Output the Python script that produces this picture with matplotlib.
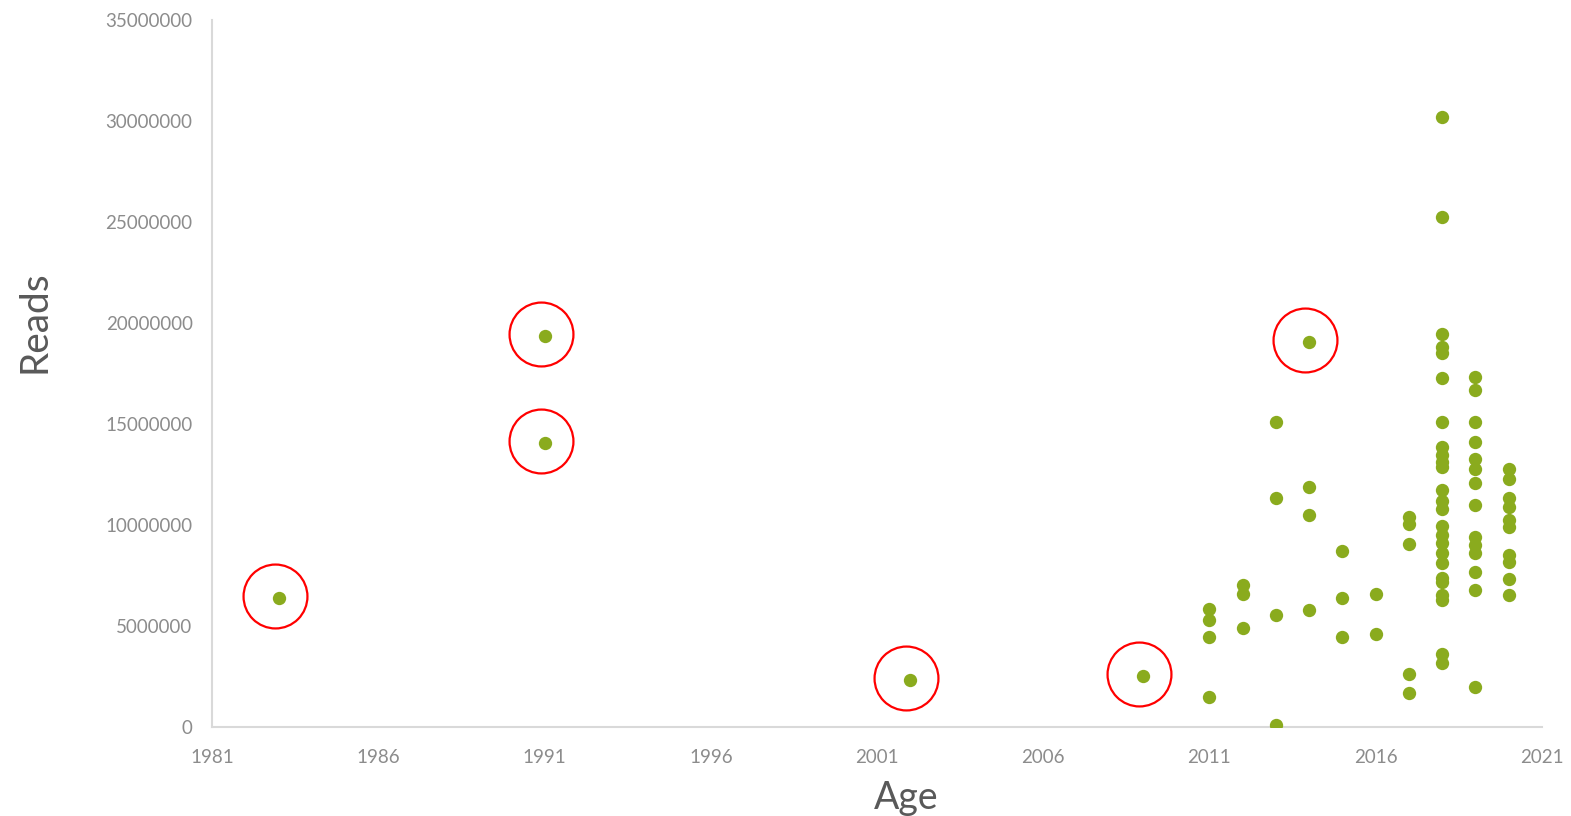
import matplotlib.pyplot as plt
from matplotlib.transforms import ScaledTranslation

plt.rcParams['font.family'] = ['Lato', 'DejaVu Sans']

# 数据：年份 与 reads 数
years = [1983, 1991, 1991, 2002, 2009,
         2011, 2011, 2011, 2011,
         2012, 2012, 2012,
         2013, 2013, 2013, 2013,
         2014, 2014, 2014, 2014,
         2015, 2015, 2015,
         2016, 2016,
         2017, 2017, 2017, 2017, 2017,
         2018, 2018, 2018, 2018, 2018, 2018, 2018, 2018, 2018, 2018,
         2018, 2018, 2018, 2018, 2018, 2018, 2018, 2018, 2018, 2018,
         2018, 2018, 2018, 2018, 2018,
         2019, 2019, 2019, 2019, 2019, 2019, 2019, 2019, 2019, 2019,
         2019, 2019, 2019, 2019,
         2020, 2020, 2020, 2020, 2020, 2020, 2020, 2020, 2020, 2020]
reads = [6390000, 19360000, 14060000, 2330000, 2520000,
         5830000, 5300000, 4460000, 1500000,
         7010000, 6570000, 4890000,
         15080000, 11340000, 5540000, 100000,
         19060000, 11870000, 10510000, 5780000,
         8700000, 6400000, 4440000,
         6570000, 4600000,
         10380000, 10050000, 9070000, 2620000, 1700000,
         30200000, 25230000, 19440000, 18800000, 18500000, 17290000, 15080000, 13850000, 13450000, 13100000,
         12850000, 11730000, 11200000, 10790000, 9950000, 9500000, 9090000, 8600000, 8130000, 7400000,
         7200000, 6530000, 6290000, 3610000, 3180000,
         17310000, 16670000, 15080000, 14090000, 13250000, 12760000, 12060000, 10990000, 9390000, 9010000,
         8630000, 7660000, 6780000, 2000000,
         12770000, 12260000, 11320000, 10910000, 10250000, 9890000, 8510000, 8180000, 7330000, 6530000]

# 红圈标出的样本
circled_years = [1983, 1991, 1991, 2002, 2009, 2014]
circled_reads = [6390000, 19360000, 14060000, 2330000, 2520000, 19060000]

fig = plt.figure(figsize=(15.71, 8.16), dpi=100)
ax = fig.add_axes([0.135, 0.109, 0.8465, 0.8665])

ax.scatter(years, reads, s=92, color='#8aab1e', zorder=3, linewidths=0)

# 红圈略向左偏
shift = ax.transData + ScaledTranslation(-0.04, 0.02, fig.dpi_scale_trans)
ax.plot(circled_years, circled_reads, 'o', ms=46, mfc='none', mec='#ff0000',
        mew=1.6, transform=shift, zorder=4)

ax.set_xlim(1981, 2021)
ax.set_ylim(0, 35000000)
ax.set_xticks(range(1981, 2022, 5))
ax.set_yticks(range(0, 35000001, 5000000))
ax.ticklabel_format(style='plain', axis='y')

for s in ['top', 'right']:
    ax.spines[s].set_visible(False)
for s in ['left', 'bottom']:
    ax.spines[s].set_color('#d9d9d9')
    ax.spines[s].set_linewidth(1.5)

ax.tick_params(length=0, labelsize=13.5, colors='#8c8c8c')
ax.tick_params(axis='x', pad=16)
ax.tick_params(axis='y', pad=14)
ax.set_xlabel('Age', fontsize=27, color='#595959', labelpad=8)
ax.set_ylabel('Reads', fontsize=28, color='#595959', labelpad=40)
ax.xaxis.set_label_coords(0.522, -0.075)
ax.yaxis.set_label_coords(-0.12, 0.573)

fig.savefig('out.png', dpi=100)
